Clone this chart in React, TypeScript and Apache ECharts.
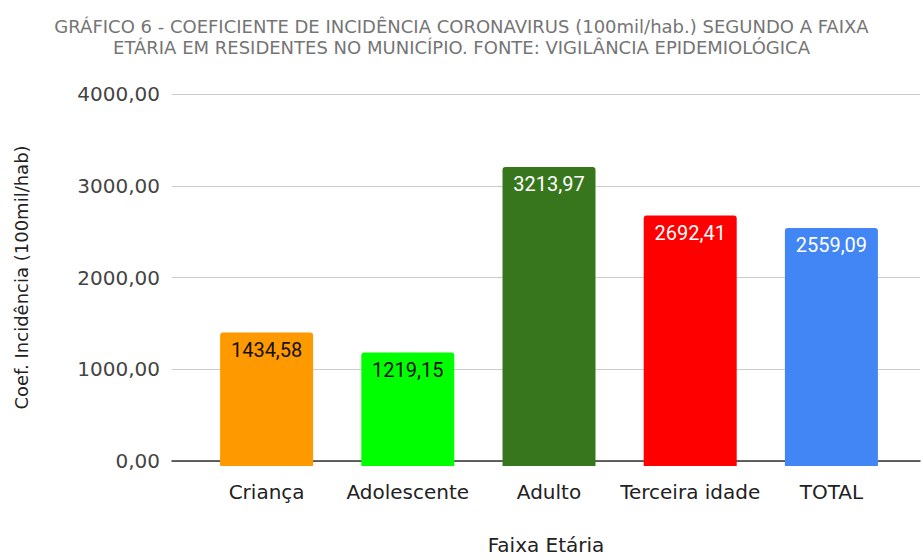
import React, { useEffect, useRef } from "react";
import * as echarts from "echarts";

const categories = ["Criança", "Adolescente", "Adulto", "Terceira idade", "TOTAL"];
const values = [1434.58, 1219.15, 3213.97, 2692.41, 2559.09];
const barColors = ["#ff9900", "#00ff00", "#38761d", "#ff0000", "#4285f4"];
const labelColors = ["#111111", "#111111", "#ffffff", "#ffffff", "#ffffff"];
const yTicks = { min: 0, max: 4000, interval: 1000 };
const titleText =
  "GRÁFICO 6 - COEFICIENTE DE INCIDÊNCIA CORONAVIRUS (100mil/hab.) SEGUNDO A FAIXA\nETÁRIA EM RESIDENTES NO MUNICÍPIO. FONTE: VIGILÂNCIA EPIDEMIOLÓGICA";
const yName = "Coef. Incidência (100mil/hab)";
const xName = "Faixa Etária";

const fmt = (v: number) => v.toFixed(2).replace(".", ",");

export default function App() {
  const ref = useRef<HTMLDivElement>(null);
  useEffect(() => {
    if (!ref.current) return;
    const chart = echarts.init(ref.current, null, { renderer: "svg" });
    const axisFont = "DejaVu Sans, Liberation Sans, sans-serif";
    chart.setOption({
      animation: false,
      backgroundColor: "#ffffff",
      title: {
        text: titleText,
        left: "center",
        top: 11,
        textStyle: {
          fontFamily: axisFont,
          fontSize: 18,
          fontWeight: "normal",
          color: "#757575",
          lineHeight: 21,
        },
      },
      grid: [
        { left: 172, right: 3, top: 94, bottom: 94 },
        { left: 196, right: 21, top: 94, bottom: 94 },
      ],
      xAxis: [
        {
          gridIndex: 0,
          type: "category",
          data: categories,
          axisLine: { show: true, lineStyle: { color: "#333333", width: 1.5 } },
          axisTick: { show: false },
          axisLabel: { show: false },
          name: xName,
          nameLocation: "middle",
          nameGap: 74,
          nameTextStyle: { fontFamily: axisFont, fontSize: 20, color: "#222222" },
        },
        {
          gridIndex: 1,
          type: "category",
          data: categories,
          axisLine: { show: false },
          axisTick: { show: false },
          axisLabel: {
            interval: 0,
            fontFamily: axisFont,
            fontSize: 20,
            color: "#222222",
            margin: 16,
          },
        },
      ],
      yAxis: [
        {
          gridIndex: 0,
          type: "value",
          min: yTicks.min,
          max: yTicks.max,
          interval: yTicks.interval,
          axisLine: { show: false },
          axisTick: { show: false },
          splitLine: { lineStyle: { color: "#cccccc", width: 1 } },
          axisLabel: {
            fontFamily: axisFont,
            fontSize: 20,
            color: "#444444",
            margin: 12,
            formatter: (v: number) => fmt(v),
          },
          name: yName,
          nameLocation: "middle",
          nameGap: 142,
          nameTextStyle: { fontFamily: axisFont, fontSize: 18, color: "#222222" },
        },
        {
          gridIndex: 1,
          type: "value",
          min: yTicks.min,
          max: yTicks.max,
          interval: yTicks.interval,
          show: false,
          splitLine: { show: false },
        },
      ],
      series: [
        {
          type: "bar",
          xAxisIndex: 1,
          yAxisIndex: 1,
          barWidth: 93,
          data: values.map((v, i) => ({
            value: v,
            itemStyle: { color: barColors[i], borderRadius: [3, 3, 0, 0] },
            label: { color: labelColors[i] },
          })),
          label: {
            show: true,
            position: "insideTop",
            distance: 7,
            fontFamily: "Roboto, sans-serif",
            fontSize: 20,
            formatter: (p: any) => fmt(p.value),
          },
        },
      ],
    });
    return () => chart.dispose();
  }, []);
  return (
    <div
      ref={ref}
      style={{ position: "fixed", left: 0, top: 0, width: 923, height: 560 }}
    />
  );
}
